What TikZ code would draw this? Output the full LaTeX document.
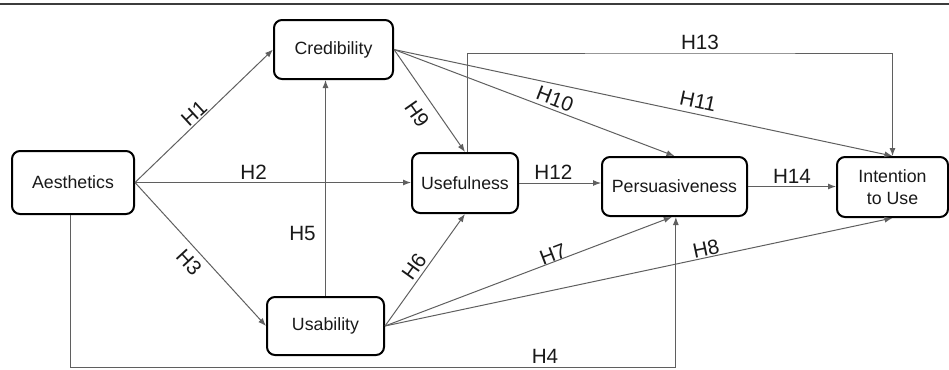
\documentclass[tikz,border=0pt]{standalone}
\usepackage{fontspec}
\setmainfont{Liberation Sans}
\usetikzlibrary{arrows.meta}

\definecolor{linegray}{RGB}{95,95,95}
\definecolor{rulegray}{RGB}{60,60,60}
\definecolor{txtdark}{RGB}{25,25,25}

\tikzset{
  box/.style={draw=black, line width=1.5pt, rounded corners=6pt, fill=white, align=center, inner sep=2pt, text=txtdark, font=\fontsize{13.3}{16.5}\selectfont},
  arr/.style={draw=linegray, line width=0.75pt, -{Latex[length=6pt,width=4.5pt]}},
  hlbl/.style={font=\fontsize{15.5}{18}\selectfont, inner sep=2pt, text=txtdark},
}

\begin{document}
\begin{tikzpicture}[x=0.75pt,y=0.75pt,yscale=-1,xscale=1]
\useasboundingbox (0,0) rectangle (949,369);

%Straight Lines: top rule
\draw [rulegray, line width=1.5pt] (0,4) -- (949,4);

%Shape: Rounded Rect
\node [box, minimum width=91.5pt, minimum height=47.25pt] (aes) at (73,182.5) {Aesthetics};
\node [box, minimum width=89.25pt, minimum height=44.25pt] (cred) at (333.5,49.5) {Credibility};
\node [box, minimum width=79.5pt, minimum height=45pt] (usef) at (465,183) {Usefulness};
\node [box, minimum width=108.75pt, minimum height=44.25pt] (pers) at (674.5,186.5) {Persuasiveness};
\node [box, minimum width=83.25pt, minimum height=45pt] (intent) at (892.5,187) {Intention\\to Use};
\node [box, minimum width=87.75pt, minimum height=43.5pt] (usab) at (325.5,326) {Usability};

\coordinate (h4low) at (545,367);
\coordinate (h13top) at (700,53);

%Straight Lines: from Aesthetics
\draw [arr] (aes.east) -- (cred.west);
\draw [arr] (aes.east) -- node [hlbl, above, pos=0.43] (l2) {H2} (aes.east -| usef.west);
\draw [arr] (aes.east) -- (usab.west);
\draw [arr] ([xshift=-2pt]aes.south) |- (h4low) node [hlbl, above] (l4) {H4} -| ([xshift=1pt]pers.south);

%Straight Lines: from Usability
\draw [arr] (usab.north) -- node [hlbl, left=5pt, pos=0.29] (l5) {H5} (usab.north |- cred.south);
\draw [arr] (usab.east) -- (usef.south);
\draw [arr] (usab.east) -- ([xshift=-2pt]pers.south);
\draw [arr] (usab.east) -- (intent.south);

%Straight Lines: from Credibility
\draw [arr] (cred.east) -- (usef.north);
\draw [arr] (cred.east) -- (pers.north);
\draw [arr] (cred.east) -- (intent.north);

%Straight Lines: to Intention
\draw [arr] (usef.east) -- node [hlbl, above, pos=0.42] (l12) {H12} (usef.east -| pers.west);
\draw [arr] ([xshift=1.5pt]usef.north) |- (h13top) node [hlbl, above] (l13) {H13} -| (intent.north);
\draw [arr] (pers.east) -- node [hlbl, above] (l14) {H14} (pers.east -| intent.west);

% Text Node: slanted labels
\node [hlbl, rotate=42.7] (l1) at (194,113) {H1};
\node [hlbl, rotate=-47.3] (l3) at (189,262) {H3};
\node [hlbl, rotate=54.4] (l6) at (414,267) {H6};
\node [hlbl, rotate=20.9] (l7) at (553,254) {H7};
\node [hlbl, rotate=12] (l8) at (706,249) {H8};
\node [hlbl, rotate=-55] (l9) at (417,114) {H9};
\node [hlbl, rotate=-21] (l10) at (555,99) {H10};
\node [hlbl, rotate=-12] (l11) at (698,101) {H11};

\end{tikzpicture}
\end{document}
